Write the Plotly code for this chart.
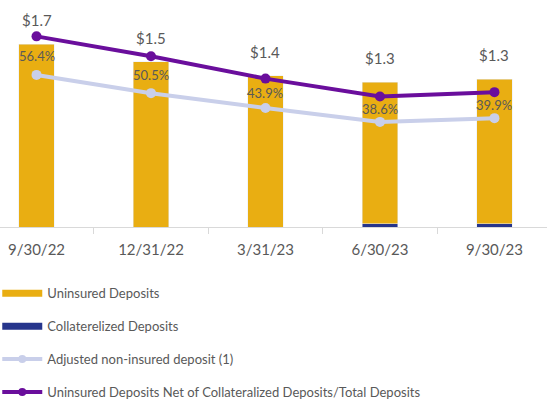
import plotly.graph_objects as go

categories = ["9/30/22", "12/31/22", "3/31/23", "6/30/23", "9/30/23"]
uninsured = [1.69, 1.53, 1.40, 1.31, 1.34]          # $B
collateralized = [0.0, 0.0, 0.0, 0.03, 0.03]         # $B
bar_labels = ["$1.7", "$1.5", "$1.4", "$1.3", "$1.3"]
net_pct = [56.4, 50.5, 43.9, 38.6, 39.9]             # %
adjusted_pct = [45.0, 39.6, 35.2, 31.1, 32.2]        # %

GOLD = "#E9AE12"
NAVY = "#26358C"
LAV = "#C9CFEA"
PURP = "#6A0E9C"
TXT = "#595959"
FONT = "Lato"

fig = go.Figure()

fig.add_trace(go.Bar(x=categories, y=collateralized, marker_color=NAVY, width=0.31,
                     showlegend=False, yaxis="y"))
fig.add_trace(go.Bar(x=categories, y=uninsured, marker_color=GOLD, width=0.31,
                     showlegend=False, yaxis="y"))

fig.add_trace(go.Scatter(x=categories, y=adjusted_pct, mode="lines+markers", yaxis="y2",
                         line=dict(color=LAV, width=4), marker=dict(size=10, color=LAV),
                         showlegend=False))
fig.add_trace(go.Scatter(x=categories, y=net_pct, mode="lines+markers", yaxis="y2",
                         line=dict(color=PURP, width=4), marker=dict(size=10, color=PURP),
                         showlegend=False))

# legend entries
fig.add_trace(go.Scatter(x=[None], y=[None], mode="lines", name="Uninsured Deposits",
                         line=dict(color=GOLD, width=7), legendgroup="a"))
fig.add_trace(go.Scatter(x=[None], y=[None], mode="lines", name="Collaterelized Deposits",
                         line=dict(color=NAVY, width=7), legendgroup="b"))
fig.add_trace(go.Scatter(x=[None], y=[None], mode="lines+markers", name="Adjusted non-insured deposit (1)",
                         line=dict(color=LAV, width=4), marker=dict(size=8, color=LAV), legendgroup="c"))
fig.add_trace(go.Scatter(x=[None], y=[None], mode="lines+markers",
                         name="Uninsured Deposits Net of Collateralized Deposits/Total Deposits",
                         line=dict(color=PURP, width=4), marker=dict(size=8, color=PURP), legendgroup="d"))

totals = [u + c for u, c in zip(uninsured, collateralized)]
for cat, t, lab in zip(categories, totals, bar_labels):
    fig.add_annotation(x=cat, y=t, yref="y", text=lab, showarrow=False, yanchor="middle",
                       yshift=24, font=dict(family=FONT, size=15, color=TXT))

for cat, a, b in zip(categories, net_pct, adjusted_pct):
    fig.add_annotation(x=cat, y=(a + b) / 2, yref="y2", text=f"{a:.1f}%", showarrow=False,
                       yanchor="middle", font=dict(family=FONT, size=13, color=TXT))

fig.update_layout(
    width=547, height=403,
    margin=dict(l=0, r=0, t=0, b=176, autoexpand=False),
    paper_bgcolor="white", plot_bgcolor="white",
    barmode="stack",
    font=dict(family=FONT, color=TXT),
    xaxis=dict(range=[-0.319, 4.459], showline=True, linecolor="#D9D9D9", linewidth=1,
               ticks="outside", tickson="boundaries", ticklen=6, tickcolor="#D9D9D9",
               tickfont=dict(family=FONT, size=15, color=TXT), showgrid=False,
               ticklabelstandoff=9, automargin=False),
    yaxis=dict(range=[0, 2.102], visible=False, showgrid=False),
    yaxis2=dict(range=[0, 67.16], overlaying="y", visible=False, showgrid=False),
    legend=dict(x=-0.005, y=-0.226, xanchor="left", yanchor="top", orientation="v",
                traceorder="grouped", tracegroupgap=13, itemwidth=40,
                font=dict(family=FONT, size=13, color=TXT), bgcolor="rgba(0,0,0,0)"),
)

fig.write_html("out.html", config={"displayModeBar": False},
               post_script="document.body.style.margin='0';document.body.style.overflow='hidden';")
